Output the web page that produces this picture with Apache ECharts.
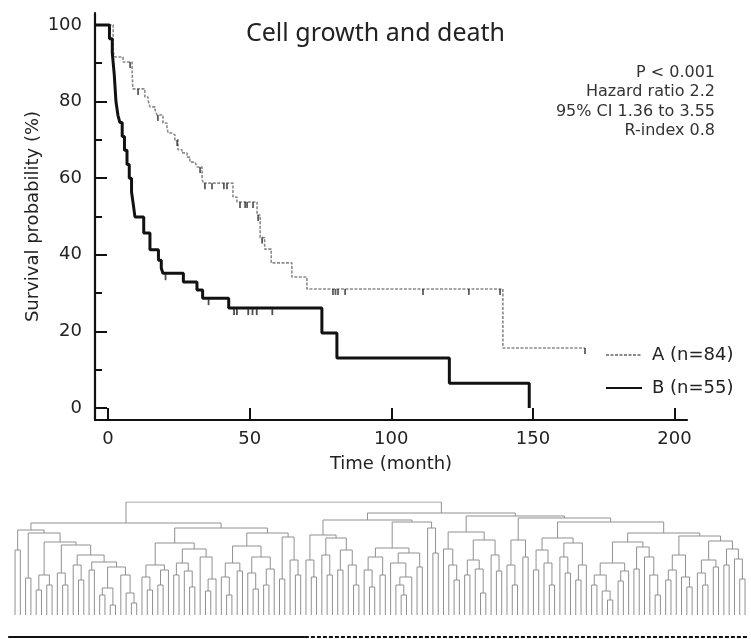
<!DOCTYPE html>
<html lang="en">
<head>
<meta charset="UTF-8">
<title>Cell growth and death</title>
<script src="https://cdn.jsdelivr.net/npm/echarts@6/dist/echarts.min.js"></script>
<style>
html, body { margin: 0; padding: 0; background: #fff; }
#chart { width: 751px; height: 639px; }
</style>
</head>
<body>
<div id="chart"></div>
<script>
// survival steps: time (month) and survival (%) after each drop
const timeA = [-4.6, 1.8, 2.5, 5.3, 8.5, 8.8, 13, 14.1, 14.8, 16.6, 17.3, 19.4, 20.8, 21.2, 22.6, 23.6, 24.7, 26.1, 27.9, 28.9, 30.7, 31.4, 33.2, 33.5, 44.1, 45.5, 52.6, 53.7, 55.3, 57.6, 64.9, 70.2, 139.4, 168.4];
const survA = [100, 93, 91.6, 90.3, 87.7, 83.3, 81.2, 80.4, 78.6, 77.8, 76.5, 74.4, 73.4, 71.8, 71.3, 70, 67.4, 66.6, 65.5, 64.2, 64, 62.9, 60.1, 58.7, 55.1, 53.8, 50.4, 44.5, 41.5, 37.9, 34.2, 31.1, 15.7, 15.7];
const censorTimeA = [7.8, 10.6, 17.6, 24.4, 32.5, 34.2, 36.7, 40.9, 42, 46.6, 48.4, 49.1, 51.2, 53, 54.4, 79.4, 80.3, 81.2, 83.7, 111.2, 127.4, 138.4, 168.4];
const censorSurvA = [90.3, 83.3, 76.5, 70, 62.9, 58.7, 58.7, 58.7, 58.7, 53.8, 53.8, 53.8, 53.8, 50.4, 44.5, 31.1, 31.1, 31.1, 31.1, 31.1, 31.1, 31.1, 15.7];

const timeB = [-4.6, 0.5, 1.5, 2.2, 2.8, 3.5, 4.2, 5, 5.8, 6.7, 7.5, 8.3, 9, 9.5, 12.6, 14.8, 17.8, 18.8, 19.4, 26.6, 31.4, 33.4, 42.6, 75.5, 80.8, 120.5, 148.7];
const survB = [100, 96.4, 92.7, 87, 80, 76.4, 74.5, 70.9, 67.3, 63.6, 60, 56.4, 52.7, 49.9, 45.7, 41.3, 38.6, 36.5, 35.2, 32.9, 30.8, 28.7, 26.1, 19.6, 13.1, 6.5, 0];
const censorTimeB = [20.3, 35.5, 44.5, 45.5, 49.5, 51, 52.5, 58];
const censorSurvB = [35.2, 28.7, 26.1, 26.1, 26.1, 26.1, 26.1, 26.1];

const xTicks = [0, 50, 100, 150, 200];
const yLabels = [0, 20, 40, 60, 80, 100];
const yMinor = [10, 30, 50, 70, 90];
const groupNames = ['A (n=84)', 'B (n=55)'];
const statsLines = ['P < 0.001', 'Hazard ratio 2.2', '95% CI 1.36 to 3.55', 'R-index 0.8'];

// dendrogram, leaf = 0, node = [height, left, right]
const chainB = [85, [65, 0, 0], [82, [37, 0, 0], [73, [40, [25, 0, 0], [30, 0, 0]], [70, [42, 0, [30, 0, 0]],
  [60, [50, 0, [35, 0, 0]], [53, [45, 0, 0], [48, [27, [20, 0, 0], [10, 0, 0]], [40, 0, [22, 0, [12, 0, 0]]]]]]]]]];
const midB = [72, [50, [38, 0, [25, 0, 0]], [45, [30, 0, 0], 0]], [66, [52, [40, 0, 0], [44, 0, [28, 0, 0]]], [58, 0, [36, [24, 0, 0], 0]]]];
const rightB = [82, [69, [52, [38, 0, [20, 0, 0]], [44, 0, 0]], [58, [42, 0, [26, 0, 0]], [46, [30, 0, 0], 0]]], [78, [36, 0, 0], [55, 0, [40, 0, 0]]]];
const leftA = [95,
  [80, [55, 0, [38, 0, 0]], [77, [60, 0, [40, 0, 0]], [65, [45, 0, 0], [50, 0, [30, 0, 0]]]]],
  [93, [67, [58, [45, 0, [28, 0, 0]], [40, 0, 0]], [62, [52, 0, [38, [30, 0, [20, 0, 0]], 0]], [48, 0, 0]]], [87, 0, [62, 0, 0]]]];
const midA = [83, [66, 0, [50, 0, [35, 0, 0]]], [75, [55, [40, 0, 0], [46, 0, [22, 0, 0]]], [60, 0, [44, 0, 0]]]];
const rightA = [97, [75, [50, 0, [30, 0, 0]], [58, 0, 0]],
  [93, [77, [65, [45, 0, 0], [52, 0, [30, 0, 0]]], [72, [58, 0, [42, 0, 0]], [50, [35, 0, 0], 0]]],
    [82, [73, [52, [40, [30, 0, 0], [24, 0, [15, 0, 0]]], [44, [34, 0, 0], 0]], [68, [46, 0, 0], [58, 0, [40, 0, [20, 0, 0]]]]],
      [79, [60, [45, [35, 0, 0], 0], [38, 0, [28, 0, 0]]], [74, [55, [42, 0, [30, 0, 0]], [48, 0, 0]], [66, [50, 0, 0], [56, 0, [36, 0, 0]]]]]]]];
const tree = [113, [92, chainB, [87, midB, rightB]], [102, leftA, [99, midA, rightA]]];
const groupLeaves = [55, 84];

// leaf positions and U links
const links = [];
let nextLeaf = 0;
function place(node) {
  if (node === 0) return { x: nextLeaf++, h: 0 };
  const a = place(node[1]);
  const b = place(node[2]);
  links.push([[a.x, a.h], [a.x, node[0]], [b.x, node[0]], [b.x, b.h]]);
  return { x: (a.x + b.x) / 2, h: node[0] };
}
place(tree);

const barY = -22;
const barSplit = groupLeaves[0] - 0.2;
const barEnd = groupLeaves[0] + groupLeaves[1] - 0.4;

const chart = echarts.init(document.getElementById('chart'));
const axisColor = '#111';
const labelFont = { fontFamily: 'DejaVu Sans', fontSize: 18, color: '#222' };

chart.setOption({
  animation: false,
  title: {
    text: 'Cell growth and death',
    left: 'center',
    top: 16,
    textStyle: { fontFamily: 'Noto Sans', fontSize: 25, fontWeight: 'normal', color: '#222' }
  },
  graphic: [{
    type: 'text',
    right: 36,
    top: 63,
    style: {
      text: statsLines.join('\n'),
      textAlign: 'right',
      fontFamily: 'DejaVu Sans',
      fontSize: 16,
      lineHeight: 19.5,
      fill: '#333'
    }
  }],
  legend: {
    data: groupNames,
    orient: 'vertical',
    left: 600,
    top: 341,
    itemWidth: 36,
    itemHeight: 14,
    itemGap: 15,
    selectedMode: false,
    itemStyle: { opacity: 0 },
    textStyle: { fontFamily: 'DejaVu Sans', fontSize: 18, color: '#222', padding: [0, 0, 0, 5] }
  },
  grid: [
    { left: 95, right: 64, top: 13, bottom: 219 },
    { left: 0, right: 0, top: 502, bottom: 0 }
  ],
  xAxis: [{
    type: 'value', gridIndex: 0, min: -4.6, max: 204.4,
    name: 'Time (month)', nameLocation: 'middle', nameGap: 35, nameMoveOverlap: false,
    nameTextStyle: labelFont,
    axisLine: { onZero: false, lineStyle: { color: axisColor, width: 2.2 } },
    axisTick: { inside: true, length: 12, customValues: xTicks, lineStyle: { color: axisColor, width: 2 } },
    axisLabel: Object.assign({ customValues: xTicks, margin: 10 }, labelFont),
    splitLine: { show: false }
  }, {
    type: 'value', gridIndex: 1, min: -2.84, max: 139.13, show: false
  }],
  yAxis: [{
    type: 'value', gridIndex: 0, min: -3.1, max: 103.1,
    name: 'Survival probability (%)', nameLocation: 'middle', nameGap: 53, nameMoveOverlap: false,
    nameTextStyle: labelFont,
    axisLine: { onZero: false, lineStyle: { color: axisColor, width: 2.2 } },
    axisTick: { inside: true, length: 12, customValues: yLabels, lineStyle: { color: axisColor, width: 2 } },
    axisLabel: Object.assign({ customValues: yLabels, margin: 13 }, labelFont),
    splitLine: { show: false }
  }, {
    type: 'value', gridIndex: 0, min: -3.1, max: 103.1, position: 'left',
    axisLine: { show: false, onZero: false },
    axisTick: { inside: true, length: 7, customValues: yMinor, lineStyle: { color: axisColor, width: 2 } },
    axisLabel: { show: false },
    splitLine: { show: false }
  }, {
    type: 'value', gridIndex: 1, min: -24, max: 113, show: false
  }],
  series: [{
    name: groupNames[0],
    type: 'line',
    step: 'end',
    symbol: 'none',
    data: timeA.map((t, i) => [t, survA[i]]),
    lineStyle: { color: '#8a8a8a', width: 1.6, type: [3, 1.5] },
    itemStyle: { color: '#8a8a8a' },
    z: 2
  }, {
    name: groupNames[1],
    type: 'line',
    step: 'end',
    symbol: 'none',
    data: timeB.map((t, i) => [t, survB[i]]),
    lineStyle: { color: '#111', width: 3 },
    itemStyle: { color: '#111' },
    z: 3
  }, {
    name: 'A censored',
    type: 'scatter',
    symbol: 'rect',
    symbolSize: [1.8, 6],
    symbolOffset: [0, 3],
    data: censorTimeA.map((t, i) => [t, censorSurvA[i]]),
    itemStyle: { color: '#333' },
    z: 4
  }, {
    name: 'B censored',
    type: 'scatter',
    symbol: 'rect',
    symbolSize: [1.8, 6],
    symbolOffset: [0, 4],
    data: censorTimeB.map((t, i) => [t, censorSurvB[i]]),
    itemStyle: { color: '#222' },
    z: 4
  }, {
    name: 'dendrogram',
    type: 'lines',
    coordinateSystem: 'cartesian2d',
    xAxisIndex: 1,
    yAxisIndex: 2,
    polyline: true,
    silent: true,
    data: links.map(c => ({ coords: c })),
    lineStyle: { color: '#909090', width: 1, opacity: 1 }
  }, {
    name: 'groups',
    type: 'lines',
    coordinateSystem: 'cartesian2d',
    xAxisIndex: 1,
    yAxisIndex: 2,
    silent: true,
    data: [
      { coords: [[-1.3, barY], [barSplit, barY]], lineStyle: { type: 'solid' } },
      { coords: [[barSplit, barY], [barEnd, barY]], lineStyle: { type: [4, 2] } }
    ],
    lineStyle: { color: '#111', width: 2, opacity: 1 }
  }]
});
</script>
</body>
</html>
